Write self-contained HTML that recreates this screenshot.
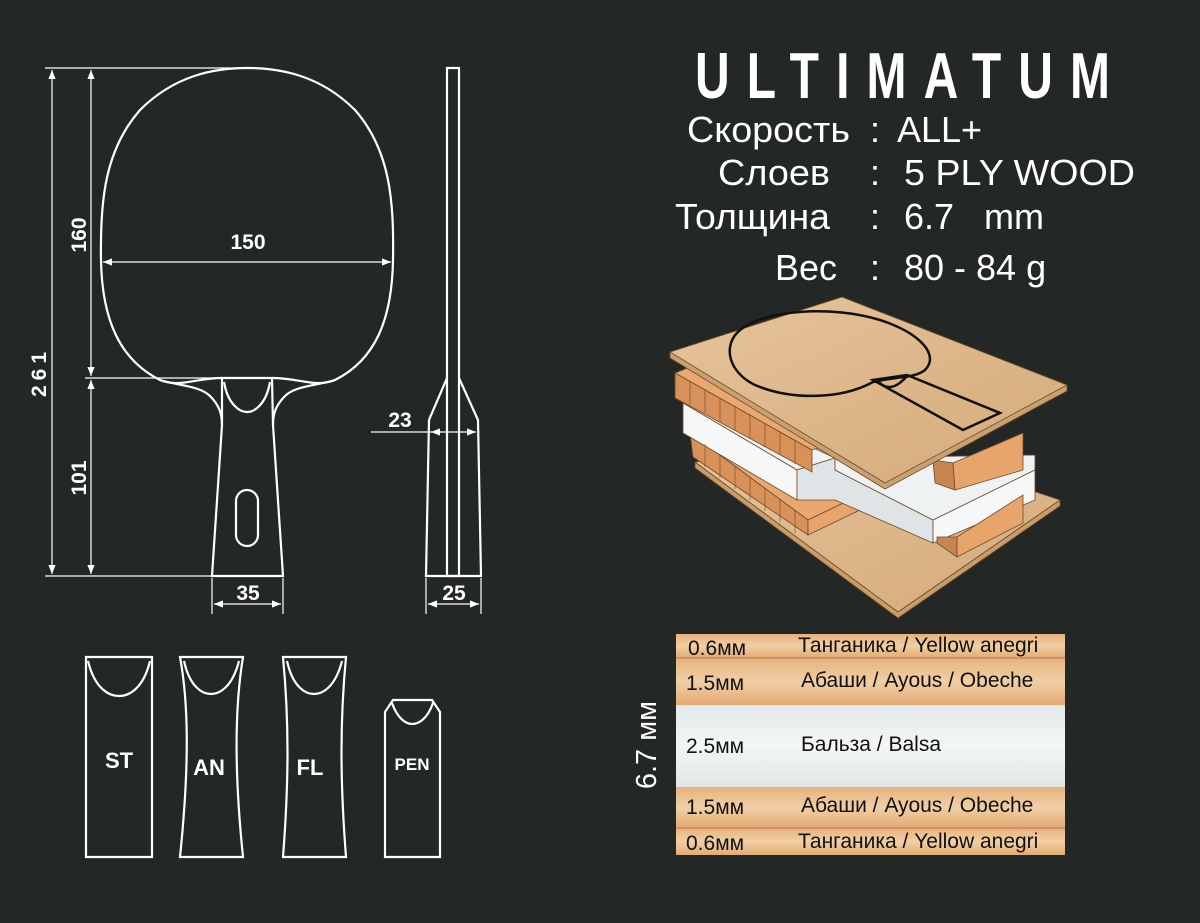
<!DOCTYPE html>
<html><head><meta charset="utf-8"><style>
html,body{margin:0;padding:0;background:#232726;}
svg{display:block}
text{font-family:"Liberation Sans",sans-serif}
</style></head><body>
<svg width="1200" height="923" viewBox="0 0 1200 923" xmlns="http://www.w3.org/2000/svg">
<defs>
<marker id="a" viewBox="0 0 10 10" refX="10" refY="5" markerWidth="9" markerHeight="9" orient="auto-start-reverse" markerUnits="userSpaceOnUse"><path d="M0,1 L10,5 L0,9 z" fill="#fff"/></marker>
<linearGradient id="wood" x1="0" y1="0" x2="1" y2="1"><stop offset="0" stop-color="#e6c49a"/><stop offset="1" stop-color="#d4aa7a"/></linearGradient>
<linearGradient id="row" x1="0" y1="0" x2="0" y2="1"><stop offset="0" stop-color="#e7b27c"/><stop offset=".5" stop-color="#f0cfa6"/><stop offset="1" stop-color="#e3aa72"/></linearGradient>
<linearGradient id="bal" x1="0" y1="0" x2="0" y2="1"><stop offset="0" stop-color="#e3e9ea"/><stop offset=".5" stop-color="#f4f6f6"/><stop offset="1" stop-color="#e0e6e6"/></linearGradient>
</defs>
<rect width="1200" height="923" fill="#232726"/>
<g stroke="#fff" fill="none" stroke-width="1.2">
<line x1="45" y1="68" x2="250" y2="68"/><line x1="45" y1="576" x2="213" y2="576"/>
<line x1="85" y1="378" x2="222" y2="378"/>
<line x1="52" y1="70" x2="52" y2="574" marker-start="url(#a)" marker-end="url(#a)"/>
<line x1="91" y1="70" x2="91" y2="376" marker-start="url(#a)" marker-end="url(#a)"/>
<line x1="91" y1="380" x2="91" y2="574" marker-start="url(#a)" marker-end="url(#a)"/>
<line x1="103" y1="262" x2="391" y2="262" marker-start="url(#a)" marker-end="url(#a)"/>
<line x1="212" y1="578" x2="212" y2="614"/><line x1="283" y1="578" x2="283" y2="614"/>
<line x1="214" y1="604" x2="281" y2="604" marker-start="url(#a)" marker-end="url(#a)"/>
<line x1="426" y1="578" x2="426" y2="614"/><line x1="481" y1="578" x2="481" y2="614"/>
<line x1="428" y1="604" x2="479" y2="604" marker-start="url(#a)" marker-end="url(#a)"/>
<line x1="371" y1="432" x2="431" y2="432"/>
<line x1="431" y1="432" x2="476" y2="432" marker-start="url(#a)" marker-end="url(#a)"/>
</g>
<g stroke="#fff" fill="none" stroke-width="2.2">
<path d="M222,378 C195,378 180,388 160,380 C120,360 102,320 101,260 C100,200 105,150 140,110 C175,75 215,68 247,68 C280,68 320,75 355,110 C390,150 394,200 393,260 C392,320 375,360 335,380 C315,388 300,378 272,378"/>
<path d="M160,380 C180,386 200,386 210,396 C220,406 222,415 222,425 L212,576 L283,576 L273,425 C273,415 275,406 285,396 C295,386 315,386 335,380"/>
<path d="M222,425 L222,378 L272,378 L273,425"/>
<path d="M224,382 C228,405 240,412 247,412 C254,412 266,405 270,382"/>
<rect x="236" y="490" width="22" height="56" rx="11"/>
<rect x="447" y="68" width="12" height="508"/>
<path d="M447,378 L429,420 L426,576 L481,576 L478,420 L459,378"/>
<path d="M86,657 L152,657 L152,857 L86,857 Z"/>
<path d="M88,661 C95,690 110,696 119,696 C128,696 143,690 150,661"/>
<path d="M180,657 L243,657 C236,700 233,760 243,857 L180,857 C190,760 188,700 180,657 Z"/>
<path d="M184,661 C190,688 203,694 211,694 C219,694 232,688 239,661"/>
<path d="M283,657 L346,657 C340,720 340,780 346,857 L283,857 C289,780 289,720 283,657 Z"/>
<path d="M287,661 C293,688 306,694 314,694 C322,694 335,688 342,661"/>
<path d="M385,712 L393,700 L432,700 L440,712 L440,857 L385,857 Z"/>
<path d="M392,703 C398,720 407,724 412,724 C418,724 427,720 433,703"/>
</g>
<g fill="#fff" font-weight="bold" font-size="21" text-anchor="middle">
<text x="248" y="249">150</text>
<text x="248" y="600">35</text>
<text x="454" y="600">25</text>
<text x="400" y="427">23</text>
<text transform="translate(86,235) rotate(-90)">160</text>
<text transform="translate(86,478) rotate(-90)">101</text>
<text transform="translate(46,372) rotate(-90)" letter-spacing="5">261</text>
<text x="119" y="768" font-size="22">ST</text>
<text x="209" y="775" font-size="22">AN</text>
<text x="310" y="775" font-size="22">FL</text>
<text x="412" y="770" font-size="17">PEN</text>
</g>
<g fill="#fff">
<text transform="translate(695,98) scale(1,1.35)" font-size="48" font-weight="bold" textLength="415" lengthAdjust="spacing" style="font-family:'Liberation Sans Narrow','Liberation Sans',sans-serif">ULTIMATUM</text>
<g font-size="36">
<text x="687" y="142" textLength="163" lengthAdjust="spacingAndGlyphs">Скорость</text><text x="870" y="142">:</text><text x="897" y="142">ALL+</text>
<text x="718" y="185" textLength="112" lengthAdjust="spacingAndGlyphs">Слоев</text><text x="870" y="185">:</text><text x="904" y="185" textLength="231" lengthAdjust="spacingAndGlyphs">5 PLY WOOD</text>
<text x="675" y="229" textLength="155" lengthAdjust="spacingAndGlyphs">Толщина</text><text x="870" y="229">:</text><text x="904" y="229" xml:space="preserve">6.7   mm</text>
<text x="775" y="280">Вес</text><text x="870" y="280">:</text><text x="904" y="280">80 - 84 g</text>
</g>
<text transform="translate(656,745) rotate(-90)" font-size="29" text-anchor="middle">6.7 мм</text>
</g>
<g stroke="#6b4a2a" stroke-width=".8">
<!-- bottom board -->
<polygon points="695,462 898,612 1060,500 1060,506 898,618 695,468" fill="#c99c68"/>
<polygon points="695,462 880,440 1060,500 898,612" fill="url(#wood)"/>
<!-- lower orange strip -->
<polygon points="690,433 700,428 860,495 808,520" fill="#eaa870"/>
<polygon points="690,433 808,520 808,535 693,457" fill="#d89158"/>
<polygon points="808,520 860,495 860,510 808,535" fill="#e8a56b"/>
<!-- white -->
<polygon points="683,403 700,395 835,458 797,470" fill="#eef2f2"/>
<polygon points="683,403 797,470 797,500 683,433" fill="#f6f8f8"/>
<polygon points="797,470 835,458 835,470 933,520 933,543 835,500 797,500" fill="#dfe5e6"/>
<polygon points="835,458 1035,455 1035,470 933,520 835,470" fill="#eef2f2"/>
<polygon points="933,520 1035,470 1035,500 933,543" fill="#f6f8f8"/>
<!-- upper orange strip -->
<polygon points="675,373 690,367 827,445 812,450" fill="#eaa870"/>
<polygon points="675,373 812,450 812,472 675,398" fill="#d89158"/>
<!-- right blocks -->
<polygon points="933,460 953,463 955,490 935,483" fill="#c98550"/>
<polygon points="953,463 1023,433 1023,470 955,490" fill="#e8a56b"/>
<polygon points="937,537 957,537 957,557 937,543" fill="#c98550"/>
<polygon points="957,537 1023,495 1023,523 957,557" fill="#e8a56b"/>
<!-- top board -->
<polygon points="670,352 842,297 1067,385 1067,391 885,489 670,358" fill="#c9a070"/>
<polygon points="670,352 842,297 1067,385 885,483" fill="url(#wood)"/>
</g>
<g stroke="#6b4a2a" stroke-width="1" opacity=".6">
<line x1="690" y1="381" x2="690" y2="405"/><line x1="705" y1="389" x2="705" y2="413"/><line x1="720" y1="398" x2="720" y2="422"/><line x1="735" y1="406" x2="735" y2="430"/><line x1="750" y1="414" x2="750" y2="438"/><line x1="765" y1="423" x2="765" y2="447"/><line x1="780" y1="431" x2="780" y2="455"/><line x1="795" y1="440" x2="795" y2="464"/>
<line x1="705" y1="444" x2="705" y2="467"/><line x1="720" y1="455" x2="720" y2="478"/><line x1="735" y1="466" x2="735" y2="489"/><line x1="750" y1="477" x2="750" y2="500"/><line x1="765" y1="488" x2="765" y2="511"/><line x1="780" y1="499" x2="780" y2="522"/><line x1="795" y1="510" x2="795" y2="533"/>
</g>
<g fill="none" stroke="#111" stroke-width="2.5">
<path d="M873,382 C840,400 790,400 755,385 C728,372 722,345 740,330 C765,310 830,305 880,320 C920,333 940,355 925,370 C915,378 900,376 873,382 Z"/>
<path d="M873,380 L907,375 L1000,413 L963,430 Z"/>
<path d="M877,380 C885,390 895,390 907,376"/>
</g>
<rect x="676" y="634" width="389" height="24" fill="url(#row)"/>
<rect x="676" y="658" width="389" height="47" fill="url(#row)"/>
<rect x="676" y="705" width="389" height="82" fill="url(#bal)"/>
<rect x="676" y="787" width="389" height="41" fill="url(#row)"/>
<rect x="676" y="828" width="389" height="27" fill="url(#row)"/>
<g stroke="#b07a4a" stroke-width="1"><line x1="676" y1="658" x2="1065" y2="658"/><line x1="676" y1="828" x2="1065" y2="828"/></g>
<g fill="#111" font-size="21">
<text x="688" y="655">0.6мм</text><text x="798" y="652">Танганика / Yellow anegri</text>
<text x="686" y="690">1.5мм</text><text x="801" y="687">Абаши / Ayous / Obeche</text>
<text x="686" y="753">2.5мм</text><text x="801" y="751">Бальза / Balsa</text>
<text x="686" y="814">1.5мм</text><text x="801" y="812">Абаши / Ayous / Obeche</text>
<text x="686" y="850">0.6мм</text><text x="798" y="848">Танганика / Yellow anegri</text>
</g>
</svg>
</body></html>
